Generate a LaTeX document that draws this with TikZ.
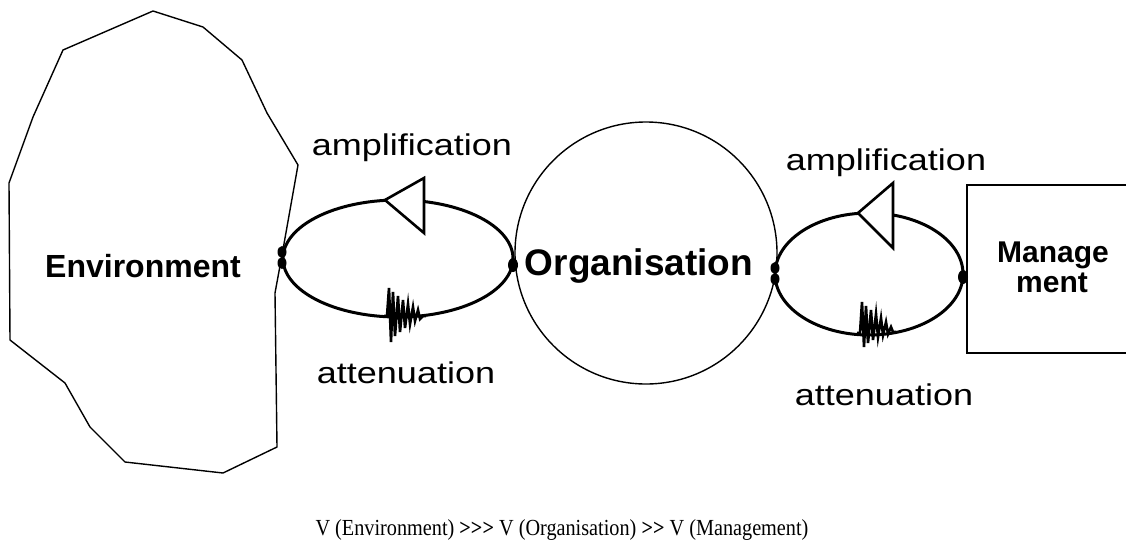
\documentclass[tikz,border=0pt]{standalone}
\usepackage{fontspec}
\setmainfont{Liberation Sans}
\newfontfamily\capserif{Liberation Serif}
\begin{document}
\begin{tikzpicture}[x=1pt,y=-1pt,
  outline/.style={line width=1.4pt, black},
  loopline/.style={line width=3pt, black},
  amp/.style={line width=2.6pt, fill=white, line join=miter},
  squig/.style={line width=2.6pt, line join=miter},
  dotmark/.style={fill=black},
  lbl/.style={font=\fontsize{30}{36}\selectfont, anchor=base, inner sep=0pt},
  bold/.style={font=\bfseries\fontsize{32}{38}\selectfont, anchor=base, inner sep=0pt}]
\useasboundingbox (0,0) rectangle (1126,547);
\clip (0,0) rectangle (1126,547);
\fill[white] (0,0) rectangle (1126,547);

% Environment blob
\draw[outline, line join=round] (153,11) -- (203,27) -- (242,60) -- (267,113) -- (298,165)
  -- (282,255) -- (275,293) -- (277,447) -- (223,473) -- (125,462) -- (90,427)
  -- (65,383) -- (10,340) -- (9,183) -- (33,117) -- (63,50) -- cycle;
% Organisation circle
\draw[outline] (646,253) circle[radius=131];
% Management box
\draw[line width=1.8pt] (967,185) rectangle (1140,353);

% left loop
\draw[loopline] (398,258.5) ellipse[x radius=115, y radius=58.5];
\draw[amp] (385,200) -- (424,178) -- (424,233) -- cycle;
\draw[squig] (384,316) -- (387,316) -- (389,288) -- (391,342) -- (393,292) -- (395,336) -- (398,296) -- (400,332)
  -- (403,300) -- (405,328) -- (408,304) -- (410,324) -- (413,307) -- (415,321) -- (418,310) -- (420,319) -- (423,316) -- (426,316);
\fill[dotmark] (282,252) ellipse[x radius=4.5, y radius=6];
\fill[dotmark] (282,263) ellipse[x radius=4.5, y radius=6];
\fill[dotmark] (513,265) ellipse[x radius=5, y radius=7];

% right loop
\draw[loopline] (869,274) ellipse[x radius=94, y radius=61];
\draw[amp] (858,213) -- (893,183) -- (893,248) -- cycle;
\draw[squig] (857,333) -- (860,333) -- (862,302) -- (864,347) -- (866,306) -- (868,343) -- (871,310) -- (873,340)
  -- (876,314) -- (878,337) -- (881,318) -- (883,335) -- (886,322) -- (888,334) -- (891,327) -- (893,332) -- (896,332);
\fill[dotmark] (775,268) ellipse[x radius=4.5, y radius=6];
\fill[dotmark] (775,279) ellipse[x radius=4.5, y radius=6];
\fill[dotmark] (963,277) ellipse[x radius=5, y radius=7];

% labels
\node[bold] (env) at (143,277) {Environment};
\node[bold, font=\bfseries\fontsize{37}{40}\selectfont] (org) at (639,275) {Organisation};
\node[bold, font=\bfseries\fontsize{30}{30}\selectfont] (man1) at (1053,262) {Manage};
\node[bold, font=\bfseries\fontsize{30}{30}\selectfont] (man2) at (1052,292) {ment};
\node[lbl] (ampl) at (412,155) {\scalebox{1.2}[1]{amplification}};
\node[lbl] (attl) at (406,383) {\scalebox{1.2}[1]{attenuation}};
\node[lbl] (ampr) at (886,170) {\scalebox{1.2}[1]{amplification}};
\node[lbl] (attr) at (884,405) {\scalebox{1.2}[1]{attenuation}};
\node[anchor=base, inner sep=0pt, font=\capserif\fontsize{23}{26}\selectfont] (law) at (562,535)
  {\scalebox{0.88}[1]{V (Environment) \textbf{>{}>{}>} V (Organisation) \textbf{>{}>} V (Management)}};
\end{tikzpicture}
\end{document}
